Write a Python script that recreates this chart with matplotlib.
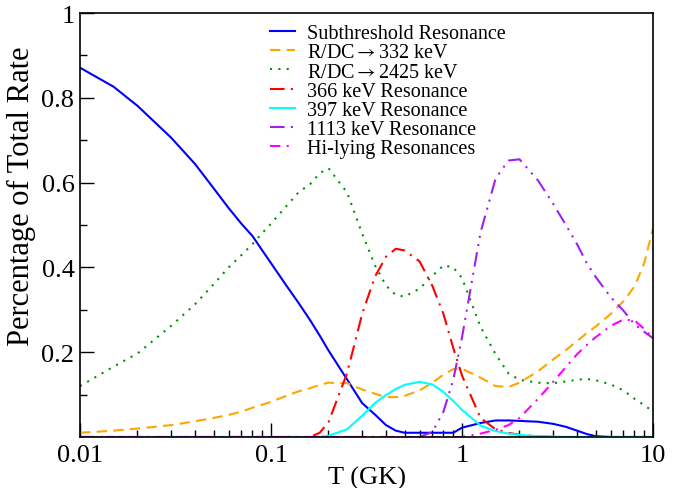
import numpy as np
import matplotlib
matplotlib.use("Agg")
import matplotlib.pyplot as plt
from matplotlib.ticker import FixedLocator, LogLocator, NullFormatter

plt.rcParams['font.family'] = ['Liberation Serif', 'DejaVu Serif']
plt.rcParams['mathtext.fontset'] = 'stix'

# temperature grid (GK)
T = [0.01, 0.015, 0.02, 0.03, 0.04, 0.05, 0.06, 0.07, 0.08, 0.09,
     0.1, 0.12, 0.14, 0.16, 0.18, 0.2, 0.25, 0.3, 0.35, 0.4,
     0.45, 0.5, 0.6, 0.7, 0.8, 0.9, 1.0, 1.25, 1.5, 1.75,
     2.0, 2.5, 3.0, 3.5, 4.0, 4.5, 5.0, 6.0, 7.0, 8.0,
     9.0, 10.0]

subthreshold = [0.871, 0.826, 0.781, 0.706, 0.644, 0.587, 0.540, 0.503, 0.474, 0.44,
                0.41, 0.358, 0.315, 0.276, 0.239, 0.204, 0.136, 0.08, 0.053, 0.028,
                0.015, 0.01, 0.01, 0.01, 0.01, 0.01, 0.022, 0.033, 0.039, 0.039,
                0.038, 0.036, 0.031, 0.024, 0.015, 0.007, 0.002, 0.0, 0.0, 0.0,
                0.0, 0.0]

rdc_332 = [0.01, 0.015, 0.02, 0.028, 0.037, 0.045, 0.052, 0.06, 0.069, 0.076,
           0.083, 0.097, 0.108, 0.115, 0.123, 0.128, 0.127, 0.112, 0.102, 0.094,
           0.094, 0.097, 0.11, 0.128, 0.147, 0.16, 0.161, 0.14, 0.12, 0.118,
           0.128, 0.155, 0.183, 0.205, 0.226, 0.245, 0.26, 0.29, 0.32, 0.355,
           0.41, 0.492]

rdc_2425 = [0.12, 0.166, 0.197, 0.262, 0.313, 0.36, 0.40, 0.429, 0.455, 0.481,
            0.503, 0.544, 0.578, 0.596, 0.622, 0.634, 0.577, 0.48, 0.405, 0.357,
            0.335, 0.331, 0.35, 0.38, 0.405, 0.40, 0.375, 0.26, 0.195, 0.15,
            0.135, 0.128, 0.127, 0.131, 0.135, 0.137, 0.134, 0.124, 0.11, 0.09,
            0.075, 0.06]

res_366 = [0.0, 0.0, 0.0, 0.0, 0.0, 0.0, 0.0, 0.0, 0.0, 0.0,
           0.0, 0.0, 0.0, 0.0, 0.01, 0.035, 0.15, 0.29, 0.378, 0.425,
           0.444, 0.44, 0.414, 0.356, 0.29, 0.21, 0.145, 0.045, 0.018, 0.01,
           0.005, 0.002, 0.0, 0.0, 0.0, 0.0, 0.0, 0.0, 0.0, 0.0,
           0.0, 0.0]

res_397 = [0.0, 0.0, 0.0, 0.0, 0.0, 0.0, 0.0, 0.0, 0.0, 0.0,
           0.0, 0.0, 0.0, 0.0, 0.0, 0.003, 0.018, 0.05, 0.08, 0.099,
           0.113, 0.123, 0.13, 0.124, 0.106, 0.085, 0.064, 0.027, 0.014, 0.008,
           0.005, 0.002, 0.001, 0.0, 0.0, 0.0, 0.0, 0.0, 0.0, 0.0,
           0.0, 0.0]

res_1113 = [0.0, 0.0, 0.0, 0.0, 0.0, 0.0, 0.0, 0.0, 0.0, 0.0,
            0.0, 0.0, 0.0, 0.0, 0.0, 0.0, 0.0, 0.0, 0.0, 0.0,
            0.0, 0.0, 0.0, 0.012, 0.06, 0.135, 0.235, 0.482, 0.61, 0.652,
            0.655, 0.605, 0.55, 0.5, 0.455, 0.41, 0.378, 0.33, 0.298, 0.266,
            0.248, 0.233]

hi_lying = [0.0, 0.0, 0.0, 0.0, 0.0, 0.0, 0.0, 0.0, 0.0, 0.0,
            0.0, 0.0, 0.0, 0.0, 0.0, 0.0, 0.0, 0.0, 0.0, 0.0,
            0.0, 0.0, 0.0, 0.0, 0.0, 0.0, 0.0, 0.008, 0.017, 0.028,
            0.045, 0.09, 0.13, 0.165, 0.195, 0.217, 0.235, 0.262, 0.277, 0.275,
            0.255, 0.233]

fig = plt.figure(figsize=(6.9, 4.89), dpi=100)
ax = fig.add_axes([80/690, 51/489, 573/690, 424/489])

lw = 1.5
ax.plot(T, subthreshold, color='#0000ff', lw=lw, label='Subthreshold Resonance')
ax.plot(T, rdc_332, color='#ffa500', lw=lw, ls=(0, (5, 3)), label=r'R/DC$\rightarrow$332 keV')
ax.plot(T, rdc_2425, color='#009400', lw=lw, ls=(0, (1, 3)), label=r'R/DC$\rightarrow$2425 keV')
ax.plot(T, res_366, color='#ff0000', lw=lw, ls=(0, (7, 3, 1, 3)), label='366 keV Resonance')
ax.plot(T, res_397, color='#00ffff', lw=lw, label='397 keV Resonance')
ax.plot(T, res_1113, color='#a020f0', lw=lw, ls=(0, (7, 3, 1, 3, 1, 3)), label='1113 keV Resonance')
ax.plot(T, hi_lying, color='#ff00ff', lw=lw, ls=(0, (5, 3, 1, 3)), label='Hi-lying Resonances')

ax.set_xscale('log')
ax.set_xlim(0.01, 10)
ax.set_ylim(0, 1)
ax.set_xticks([0.01, 0.1, 1, 10])
ax.set_xticklabels(['0.01', '0.1', '1', '10'])
ax.xaxis.set_minor_locator(LogLocator(base=10, subs=np.arange(2, 10)))
ax.xaxis.set_minor_formatter(NullFormatter())
ax.set_yticks([0.2, 0.4, 0.6, 0.8, 1.0])
ax.set_yticklabels(['0.2', '0.4', '0.6', '0.8', '1'])
ax.yaxis.set_minor_locator(FixedLocator([0.1, 0.3, 0.5, 0.7, 0.9]))

ax.tick_params(which='both', direction='in', top=False, right=False, labelsize=19)
ax.tick_params(axis='x', pad=5)
ax.tick_params(axis='y', pad=4)
ax.tick_params(which='major', length=10, width=1)
ax.tick_params(which='minor', length=5, width=1)
for s in ax.spines.values():
    s.set_linewidth(1.2)

ax.set_xlabel('T (GK)', fontsize=19, labelpad=0)
ax.set_ylabel('Percentage of Total Rate', fontsize=22)
ax.yaxis.set_label_coords(-0.077, 0.57)

ax.legend(loc='upper left', bbox_to_anchor=(0.311, 1.002), frameon=False, fontsize=14.5,
          handlelength=1.25, handletextpad=0.55, labelspacing=0.0, borderaxespad=0.2)

fig.savefig('out.png', dpi=100)
